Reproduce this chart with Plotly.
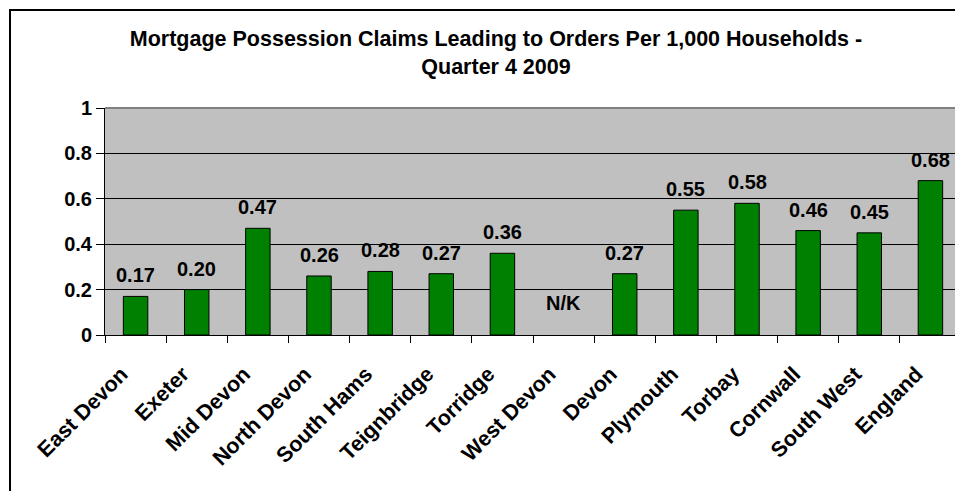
import plotly.graph_objects as go

categories = ["East Devon", "Exeter", "Mid Devon", "North Devon", "South Hams",
              "Teignbridge", "Torridge", "West Devon", "Devon", "Plymouth",
              "Torbay", "Cornwall", "South West", "England"]
values = [0.17, 0.20, 0.47, 0.26, 0.28, 0.27, 0.36, None, 0.27, 0.55,
          0.58, 0.46, 0.45, 0.68]
value_labels = ["0.17", "0.20", "0.47", "0.26", "0.28", "0.27", "0.36", "N/K",
                "0.27", "0.55", "0.58", "0.46", "0.45", "0.68"]
y_ticks = [0, 0.2, 0.4, 0.6, 0.8, 1]
y_tick_labels = ["0", "0.2", "0.4", "0.6", "0.8", "1"]
title_text = "Mortgage Possession Claims Leading to Orders Per 1,000 Households -<br>Quarter 4 2009"

FONT = "Liberation Sans, Arial, sans-serif"

# the page places the figure at an 8px body offset
OFF = 8
W, H = 963 - OFF, 491 - OFF
ML, MR, MT, MB = 105 - OFF, 2, 108 - OFF, 156
pw = W - ML - MR
ph = H - MT - MB


def px_x(px):
    return (px - OFF - ML) / pw


def px_y(py):
    return (H - MB - (py - OFF)) / ph


fig = go.Figure()
fig.add_trace(go.Bar(
    x=categories, y=values,
    marker=dict(color="#008000", line=dict(color="#000000", width=1)),
    hoverinfo="x+y",
))

annotations = []
for c, v, t in zip(categories, values, value_labels):
    if v is None:
        annotations.append(dict(x=c, y=0.14, xref="x", yref="y", text="<b>%s</b>" % t,
                                showarrow=False, font=dict(family=FONT, size=20, color="#000")))
    else:
        annotations.append(dict(x=c, y=v, xref="x", yref="y", text="<b>%s</b>" % t,
                                showarrow=False, yanchor="middle", yshift=21,
                                font=dict(family=FONT, size=20, color="#000")))

shapes = [
    dict(type="rect", xref="paper", yref="paper",
         x0=px_x(10), x1=px_x(1000), y0=px_y(10), y1=px_y(560),
         line=dict(color="#000000", width=2), fillcolor="rgba(0,0,0,0)", layer="above"),
    dict(type="line", xref="paper", yref="paper", x0=0, x1=1, y0=1, y1=1,
         line=dict(color="#808080", width=2)),
    dict(type="line", xref="paper", yref="paper", x0=1, x1=1, y0=0, y1=1,
         line=dict(color="#808080", width=2)),
]

fig.update_layout(
    width=W, height=H,
    margin=dict(l=ML, r=MR, t=MT, b=MB, autoexpand=False),
    paper_bgcolor="#FFFFFF",
    plot_bgcolor="#C0C0C0",
    showlegend=False,
    bargap=0.6,
    font=dict(family=FONT, color="#000000"),
    title=dict(text="<b>" + title_text + "</b>", x=px_x(496), xref="paper", xanchor="center",
               y=1 - 38 / H, yref="container", yanchor="top",
               font=dict(family=FONT, size=21.5, color="#000")),
    annotations=annotations,
    shapes=shapes,
)
fig.update_xaxes(
    type="category", showline=True, linecolor="#000000", linewidth=1,
    ticks="outside", tickson="boundaries", ticklen=7, tickcolor="#000000",
    tickangle=-45, tickfont=dict(family=FONT, size=21.5, color="#000"),
    ticklabelshift=-14, ticklabelstandoff=17,
    showgrid=False, automargin=False,
    tickprefix="<b>", ticksuffix="</b>",
)
fig.update_yaxes(
    range=[0, 1], tickvals=y_ticks, ticktext=["<b>%s</b>" % t for t in y_tick_labels],
    showline=True, linecolor="#000000", linewidth=1,
    ticks="outside", ticklen=8, tickcolor="#000000",
    showgrid=True, gridcolor="#000000", gridwidth=1,
    tickfont=dict(family=FONT, size=20, color="#000"),
    ticklabelstandoff=0, zeroline=False, automargin=False,
)

fig.write_html("out.html")
